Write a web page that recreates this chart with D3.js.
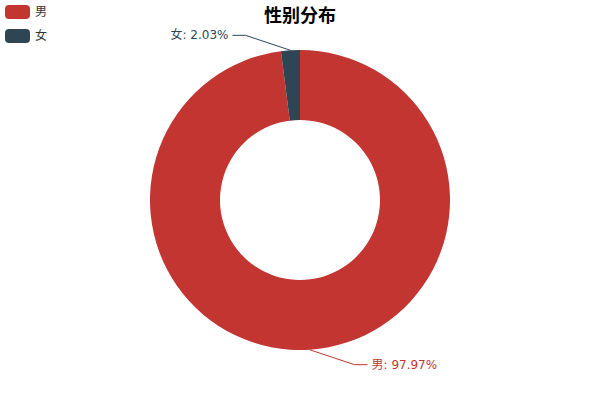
<!DOCTYPE html>
<html>
<head>
<meta charset="utf-8">
<script src="https://d3js.org/d3.v7.min.js"></script>
<style>
  body { margin:0; background:#fff; }
  text { font-family: "DejaVu Sans", "Noto Sans CJK SC", sans-serif; }
</style>
</head>
<body>
<script>
  // data
  var categories = ["男", "女"];
  var shares = [97.97, 2.03];
  var colors = ["#c23531", "#2f4554"];
  var title = "性别分布";

  var width = 600, height = 400;
  var cx = 300, cy = 200, rInner = 80, rOuter = 150;

  var svg = d3.select("body").append("svg")
      .attr("width", width)
      .attr("height", height);

  // title
  svg.append("text")
    .attr("x", width / 2)
    .attr("y", 22)
    .attr("text-anchor", "middle")
    .style("font-size", "18px")
    .style("font-weight", "bold")
    .style("font-family", "'Noto Sans CJK SC', sans-serif")
    .attr("fill", "#000")
    .text(title);

  // legend, top-left
  var legend = svg.append("g").attr("transform", "translate(5,5)");
  var item = legend.selectAll("g").data(categories).enter().append("g")
    .attr("transform", function(d, i) { return "translate(0," + (i * 24) + ")"; });
  item.append("rect")
    .attr("width", 25).attr("height", 14)
    .attr("rx", 4).attr("ry", 4)
    .attr("fill", function(d, i) { return colors[i]; });
  item.append("text")
    .attr("x", 30).attr("y", 11)
    .style("font-size", "12px")
    .style("font-family", "'Noto Sans CJK SC', sans-serif")
    .attr("fill", "#333")
    .text(function(d) { return d; });

  // donut
  var data = categories.map(function(c, i) { return { name: c, value: shares[i], color: colors[i] }; });
  var pie = d3.pie().sort(null).value(function(d) { return d.value; });
  var arc = d3.arc().innerRadius(rInner).outerRadius(rOuter);
  var arcs = pie(data);

  var g = svg.append("g").attr("transform", "translate(" + cx + "," + cy + ")");
  g.selectAll("path").data(arcs).enter().append("path")
    .attr("d", arc)
    .attr("fill", function(d) { return d.data.color; });

  // labels with guide lines
  arcs.forEach(function(d) {
    var mid = (d.startAngle + d.endAngle) / 2;
    var sx = Math.sin(mid), sy = -Math.cos(mid);
    var p0 = [rOuter * sx, rOuter * sy];
    var side = sx >= 0 ? 1 : -1;
    var vside = sy >= 0 ? 1 : -1;
    var p1 = [p0[0] + side * 45, p0[1] + vside * 15];
    var p2 = [p1[0] + side * 13, p1[1]];
    g.append("polyline")
      .attr("points", [p0, p1, p2].map(function(p) { return p.join(","); }).join(" "))
      .attr("fill", "none")
      .attr("stroke", d.data.color)
      .attr("stroke-width", 1);
    g.append("text")
      .attr("x", p2[0] + side * 4)
      .attr("y", p2[1] + 4)
      .attr("text-anchor", side > 0 ? "start" : "end")
      .style("font-size", "12px")
      .attr("fill", d.data.color)
      .text(d.data.name + ": " + d3.format(".2f")(d.data.value) + "%");
  });
</script>
</body>
</html>
